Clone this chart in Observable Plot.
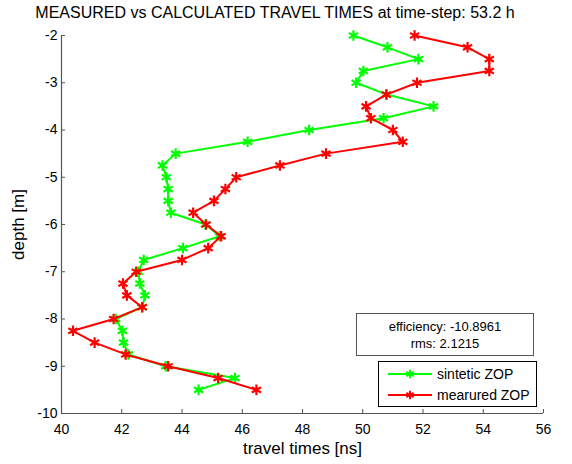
<!DOCTYPE html>
<html>
<head>
<meta charset="utf-8">
<script src="https://cdn.jsdelivr.net/npm/d3@7"></script>
<script src="https://cdn.jsdelivr.net/npm/@observablehq/plot@0.6"></script>
<style>
  html, body { margin: 0; padding: 0; background: #fff; }
  #wrap { position: relative; width: 572px; height: 464px; font-family: "Liberation Sans", Arial, sans-serif; color: #000; }
  #title { position: absolute; left: 0; width: 550px; top: 4px; text-align: center; font-size: 16px; white-space: nowrap; }
  #stats { position: absolute; left: 356px; top: 313px; width: 178px; border: 1px solid #555; background: #fff; font-size: 13px; text-align: center; line-height: 17px; padding-top: 4px; box-sizing: border-box; height: 43px; }
  #legend { position: absolute; left: 378px; top: 361px; width: 159px; height: 46px; border: 1px solid #000; background: #fff; box-sizing: border-box; font-size: 14px; }
  #legend .row { position: absolute; left: 8px; height: 20px; display: flex; align-items: center; }
  #legend svg { display: block; }
  #legend span { margin-left: 4px; }
  g[aria-label="x-axis label"] text, g[aria-label="y-axis label"] text { font-size: 17px; }
</style>
</head>
<body>
<div id="wrap">
  <div id="chart"></div>
  <div id="title"></div>
  <div id="stats"></div>
  <div id="legend"></div>
</div>
<script>
// ---- data ----
const depths = [-2, -2.25, -2.5, -2.75, -3, -3.25, -3.5, -3.75, -4, -4.25, -4.5, -4.75, -5, -5.25, -5.5, -5.75,
  -6, -6.25, -6.5, -6.75, -7, -7.25, -7.5, -7.75, -8, -8.25, -8.5, -8.75, -9, -9.25, -9.5];
const sintetic = [49.69, 50.82, 51.85, 50.02, 49.78, 50.8, 52.35, 50.69, 48.22, 46.18, 43.79, 43.35, 43.48, 43.54, 43.54, 43.63,
  44.78, 45.25, 44.03, 42.73, 42.55, 42.6, 42.77, 42.68, 41.8, 42.02, 42.06, 42.22, 43.46, 45.76, 44.55];
const measured = [51.72, 53.48, 54.2, 54.2, 51.8, 50.78, 50.11, 50.27, 51.0, 51.33, 48.78, 47.25, 45.8, 45.44, 45.06, 44.37,
  44.8, 45.3, 44.87, 44.0, 42.48, 42.04, 42.17, 42.68, 41.73, 40.38, 41.1, 42.13, 43.54, 45.2, 46.47];
const xTicks = [40, 42, 44, 46, 48, 50, 52, 54, 56];
const yTicks = [-10, -9, -8, -7, -6, -5, -4, -3, -2];
const seriesNames = ["sintetic ZOP", "mearured ZOP"];
const seriesColors = ["#00ff00", "#ff0000"];
const titleText = "MEASURED vs CALCULATED TRAVEL TIMES at time-step: 53.2 h";
const statsLines = ["efficiency: -10.8961", "rms: 2.1215"];
const xLabel = "travel times [ns]";
const yLabel = "depth [m]";

const synData = depths.map((d, i) => ({depth: d, t: sintetic[i]}));
const meaData = depths.map((d, i) => ({depth: d, t: measured[i]}));

const axisColor = "#555";

const chart = Plot.plot({
  width: 572,
  height: 464,
  marginLeft: 61,
  marginRight: 29,
  marginTop: 35,
  marginBottom: 51,
  style: {fontFamily: "'Liberation Sans', Arial, sans-serif", fontSize: "14px", background: "#fff", color: "#000"},
  x: {domain: [40, 56]},
  y: {domain: [-10, -2]},
  marks: [
    Plot.axisX({ticks: xTicks, tickSize: -4, tickPadding: 15, tickFormat: d => String(d), stroke: axisColor,
      label: xLabel, labelAnchor: "center", labelOffset: 40, labelArrow: "none", fontSize: 14}),
    Plot.axisY({ticks: yTicks, tickSize: -4, tickPadding: 8, tickFormat: d => String(d), stroke: axisColor,
      label: yLabel, labelAnchor: "center", labelOffset: 50, labelArrow: "none", fontSize: 14}),
    Plot.ruleX([40], {stroke: axisColor, strokeWidth: 1.2}),
    Plot.ruleY([-10], {stroke: axisColor, strokeWidth: 1.2}),
    Plot.line(synData, {x: "t", y: "depth", stroke: seriesColors[0], strokeWidth: 2}),
    Plot.dot(synData, {x: "t", y: "depth", stroke: seriesColors[0], symbol: "asterisk", r: 5, strokeWidth: 2.2}),
    Plot.line(meaData, {x: "t", y: "depth", stroke: seriesColors[1], strokeWidth: 2}),
    Plot.dot(meaData, {x: "t", y: "depth", stroke: seriesColors[1], symbol: "asterisk", r: 5, strokeWidth: 2.2})
  ]
});
document.getElementById("chart").appendChild(chart);

document.getElementById("title").textContent = titleText;
document.getElementById("stats").innerHTML = statsLines.map(s => `<div>${s}</div>`).join("");

const legend = document.getElementById("legend");
seriesNames.forEach((name, i) => {
  const row = document.createElement("div");
  row.className = "row";
  row.style.top = (2 + i * 21) + "px";
  const svg = d3.create("svg").attr("width", 46).attr("height", 12);
  svg.append("line").attr("x1", 1).attr("x2", 45).attr("y1", 6).attr("y2", 6)
    .attr("stroke", seriesColors[i]).attr("stroke-width", 2);
  svg.append("path").attr("transform", "translate(23,6)")
    .attr("d", d3.symbol(d3.symbolAsterisk, 50)())
    .attr("stroke", seriesColors[i]).attr("stroke-width", 2).attr("fill", "none");
  row.appendChild(svg.node());
  const span = document.createElement("span");
  span.textContent = name;
  row.appendChild(span);
  legend.appendChild(row);
});
</script>
</body>
</html>
